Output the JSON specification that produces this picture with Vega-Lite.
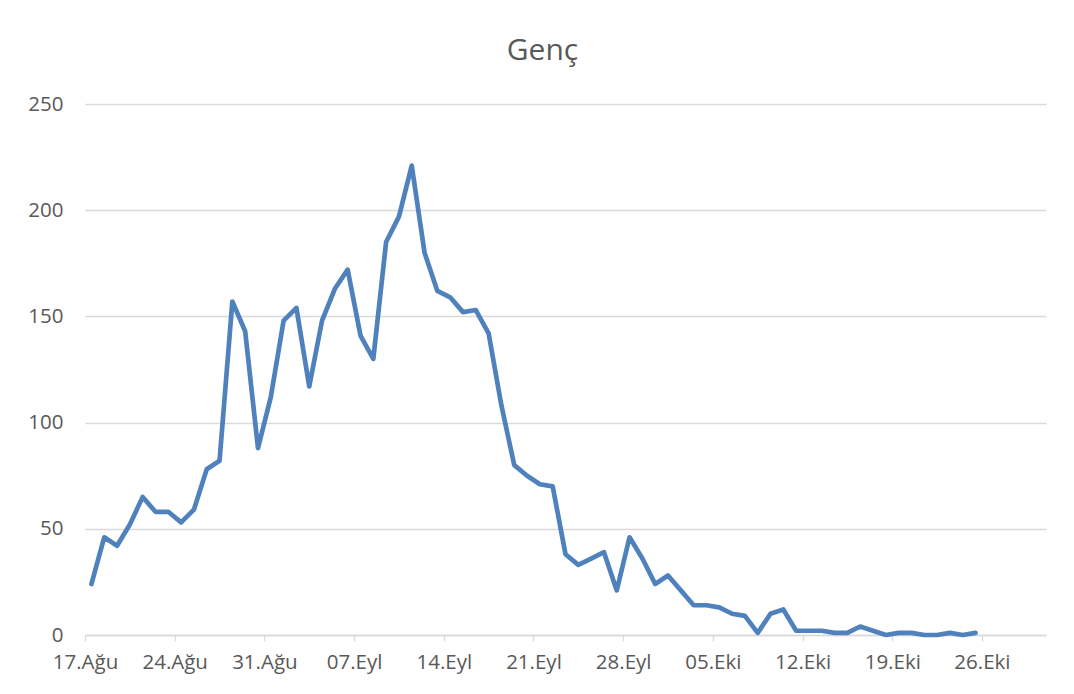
{
  "$schema": "https://vega.github.io/schema/vega-lite/v6.json",
  "width": 961,
  "height": 531,
  "autosize": "none",
  "padding": {"left": 85, "top": 104, "right": 28, "bottom": 59},
  "background": "white",
  "title": {
    "text": "Genç",
    "font": "Open Sans",
    "fontSize": 30,
    "fontWeight": "normal",
    "color": "#595959",
    "anchor": "middle",
    "dx": -23,
    "offset": 4,
    "baseline": "alphabetic"
  },
  "config": {
    "view": {"stroke": null},
    "axis": {
      "labelFont": "Open Sans",
      "labelFontSize": 20.5,
      "labelColor": "#595959",
      "gridColor": "#d9d9d9",
      "gridWidth": 1.3,
      "domainColor": "#d9d9d9",
      "tickColor": "#d9d9d9"
    }
  },
  "data": {
    "values": [
      {"date": "2020-08-17", "value": 24},
      {"date": "2020-08-18", "value": 46},
      {"date": "2020-08-19", "value": 42},
      {"date": "2020-08-20", "value": 52},
      {"date": "2020-08-21", "value": 65},
      {"date": "2020-08-22", "value": 58},
      {"date": "2020-08-23", "value": 58},
      {"date": "2020-08-24", "value": 53},
      {"date": "2020-08-25", "value": 59},
      {"date": "2020-08-26", "value": 78},
      {"date": "2020-08-27", "value": 82},
      {"date": "2020-08-28", "value": 157},
      {"date": "2020-08-29", "value": 143},
      {"date": "2020-08-30", "value": 88},
      {"date": "2020-08-31", "value": 112},
      {"date": "2020-09-01", "value": 148},
      {"date": "2020-09-02", "value": 154},
      {"date": "2020-09-03", "value": 117},
      {"date": "2020-09-04", "value": 148},
      {"date": "2020-09-05", "value": 163},
      {"date": "2020-09-06", "value": 172},
      {"date": "2020-09-07", "value": 141},
      {"date": "2020-09-08", "value": 130},
      {"date": "2020-09-09", "value": 185},
      {"date": "2020-09-10", "value": 197},
      {"date": "2020-09-11", "value": 221},
      {"date": "2020-09-12", "value": 180},
      {"date": "2020-09-13", "value": 162},
      {"date": "2020-09-14", "value": 159},
      {"date": "2020-09-15", "value": 152},
      {"date": "2020-09-16", "value": 153},
      {"date": "2020-09-17", "value": 142},
      {"date": "2020-09-18", "value": 108},
      {"date": "2020-09-19", "value": 80},
      {"date": "2020-09-20", "value": 75},
      {"date": "2020-09-21", "value": 71},
      {"date": "2020-09-22", "value": 70},
      {"date": "2020-09-23", "value": 38},
      {"date": "2020-09-24", "value": 33},
      {"date": "2020-09-25", "value": 36},
      {"date": "2020-09-26", "value": 39},
      {"date": "2020-09-27", "value": 21},
      {"date": "2020-09-28", "value": 46},
      {"date": "2020-09-29", "value": 36},
      {"date": "2020-09-30", "value": 24},
      {"date": "2020-10-01", "value": 28},
      {"date": "2020-10-02", "value": 21},
      {"date": "2020-10-03", "value": 14},
      {"date": "2020-10-04", "value": 14},
      {"date": "2020-10-05", "value": 13},
      {"date": "2020-10-06", "value": 10},
      {"date": "2020-10-07", "value": 9},
      {"date": "2020-10-08", "value": 1},
      {"date": "2020-10-09", "value": 10},
      {"date": "2020-10-10", "value": 12},
      {"date": "2020-10-11", "value": 2},
      {"date": "2020-10-12", "value": 2},
      {"date": "2020-10-13", "value": 2},
      {"date": "2020-10-14", "value": 1},
      {"date": "2020-10-15", "value": 1},
      {"date": "2020-10-16", "value": 4},
      {"date": "2020-10-17", "value": 2},
      {"date": "2020-10-18", "value": 0},
      {"date": "2020-10-19", "value": 1},
      {"date": "2020-10-20", "value": 1},
      {"date": "2020-10-21", "value": 0},
      {"date": "2020-10-22", "value": 0},
      {"date": "2020-10-23", "value": 1},
      {"date": "2020-10-24", "value": 0},
      {"date": "2020-10-25", "value": 1}
    ]
  },
  "mark": {
    "type": "line",
    "color": "#4f81bd",
    "strokeWidth": 4.7,
    "strokeJoin": "round",
    "strokeCap": "round"
  },
  "encoding": {
    "x": {
      "field": "date",
      "type": "temporal",
      "timeUnit": "utcyearmonthdate",
      "bandPosition": 0.5,
      "title": null,
      "scale": {
        "domain": [
          {"year": 2020, "month": 8, "date": 17, "utc": true},
          {"year": 2020, "month": 10, "date": 31, "utc": true}
        ]
      },
      "axis": {
        "values": [
          {"year": 2020, "month": 8, "date": 17, "utc": true},
          {"year": 2020, "month": 8, "date": 24, "utc": true},
          {"year": 2020, "month": 8, "date": 31, "utc": true},
          {"year": 2020, "month": 9, "date": 7, "utc": true},
          {"year": 2020, "month": 9, "date": 14, "utc": true},
          {"year": 2020, "month": 9, "date": 21, "utc": true},
          {"year": 2020, "month": 9, "date": 28, "utc": true},
          {"year": 2020, "month": 10, "date": 5, "utc": true},
          {"year": 2020, "month": 10, "date": 12, "utc": true},
          {"year": 2020, "month": 10, "date": 19, "utc": true},
          {"year": 2020, "month": 10, "date": 26, "utc": true}
        ],
        "labelExpr": "utcFormat(datum.value, '%d') + '.' + ['Oca','Şub','Mar','Nis','May','Haz','Tem','Ağu','Eyl','Eki','Kas','Ara'][utcmonth(datum.value)]",
        "grid": false,
        "domainWidth": 1.3,
        "tickSize": 6,
        "tickWidth": 1.3,
        "labelPadding": 11,
        "labelFlush": false,
        "labelOverlap": false
      }
    },
    "y": {
      "field": "value",
      "type": "quantitative",
      "title": null,
      "scale": {"domain": [0, 250], "nice": false},
      "axis": {
        "values": [0, 50, 100, 150, 200, 250],
        "domain": false,
        "ticks": false,
        "labelPadding": 22,
        "grid": true
      }
    }
  }
}
